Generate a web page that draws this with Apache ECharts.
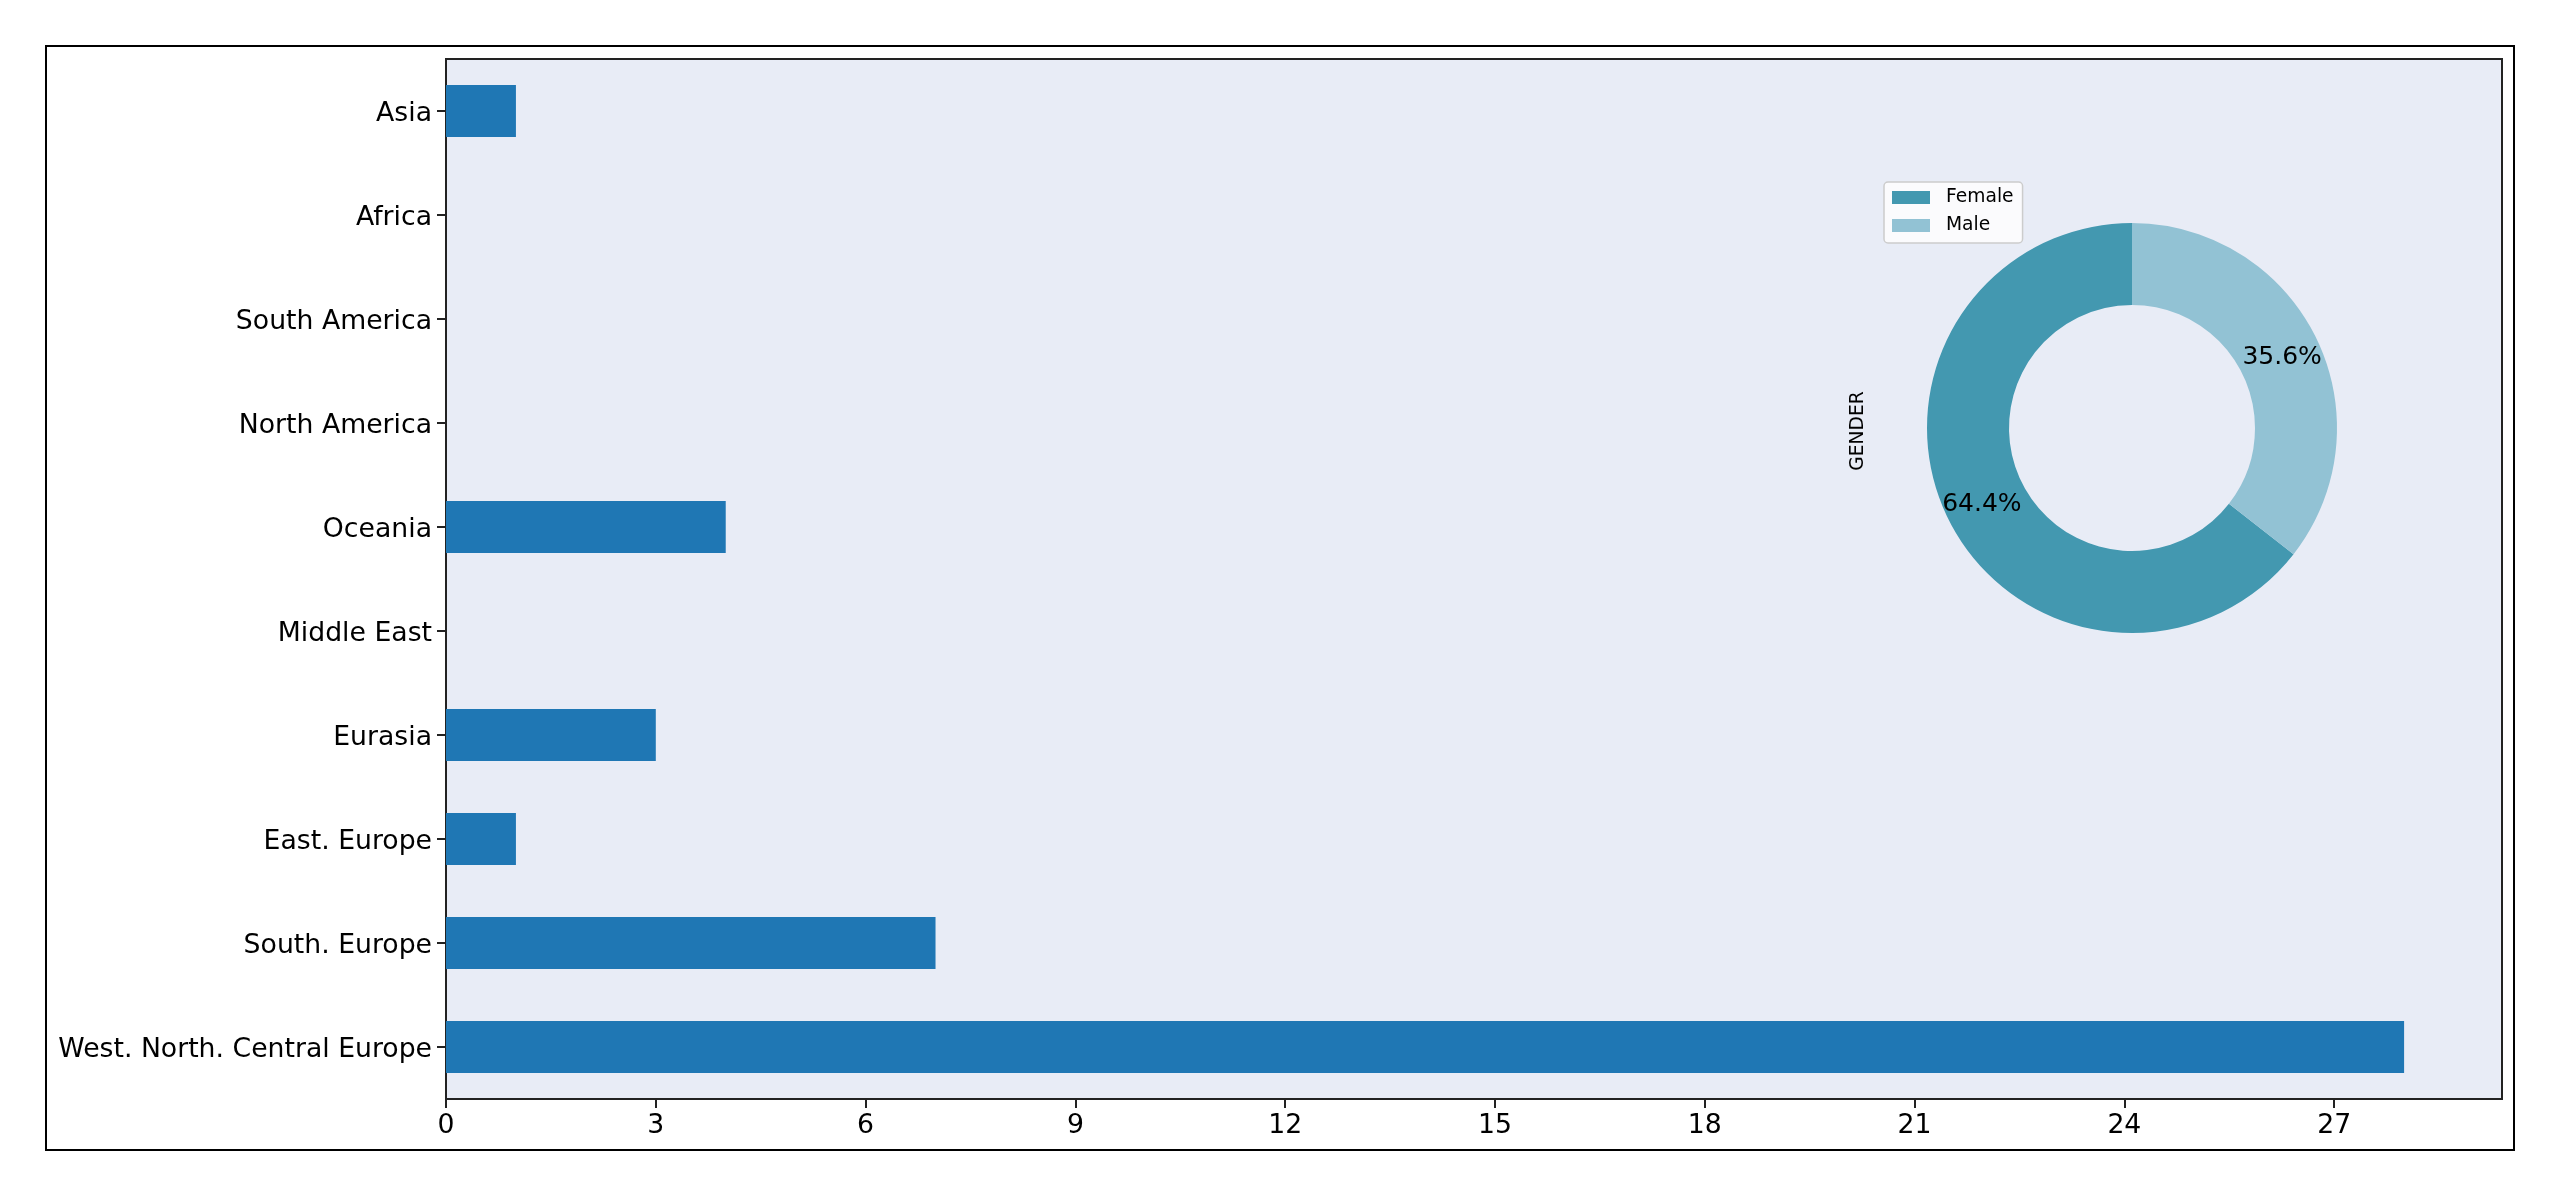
<!DOCTYPE html>
<html>
<head>
<meta charset="utf-8">
<script src="https://cdn.jsdelivr.net/npm/echarts@6/dist/echarts.min.js"></script>
<style>
html,body{margin:0;padding:0;background:#fff;}
#chart{width:2560px;height:1197px;}
</style>
</head>
<body>
<div id="chart"></div>
<script>
const regions = ['Asia','Africa','South America','North America','Oceania','Middle East','Eurasia','East. Europe','South. Europe','West. North. Central Europe'];
const regionCounts = [1,0,0,0,4,0,3,1,7,28];
const xTicks = [0,3,6,9,12,15,18,21,24,27];
const genderNames = ['Female','Male'];
const genderCounts = [29,16];
const genderColors = ['#4398b0','#92c2d4'];

const FONT = 'DejaVu Sans';
const chart = echarts.init(document.getElementById('chart'));
chart.setOption({
  backgroundColor:'#ffffff',
  animation:false,
  textStyle:{fontFamily:FONT},
  graphic:[
    {type:'rect', shape:{x:46,y:46,width:2468,height:1104}, style:{fill:null, stroke:'#000', lineWidth:2}, z:-1},
    {type:'text', x:1858, y:431, rotation:Math.PI/2, z:10,
      style:{text:'GENDER', fontFamily:FONT, fontSize:18.7, fill:'#000', textAlign:'center', textVerticalAlign:'middle'}}
  ],
  grid:{left:446, top:59, width:2056, height:1040, show:true, backgroundColor:'#e8ecf6', borderColor:'#222', borderWidth:2, containLabel:false},
  xAxis:{type:'value', min:0, max:29.4,
    axisLine:{show:true, lineStyle:{color:'#222', width:2}},
    axisTick:{show:true, length:9, lineStyle:{color:'#222', width:2}, customValues:xTicks},
    axisLabel:{color:'#000', fontSize:26.7, fontFamily:FONT, margin:14, customValues:xTicks},
    splitLine:{show:false}},
  yAxis:{type:'category', data:regions, inverse:true,
    axisLine:{show:true, lineStyle:{color:'#222', width:2}},
    axisTick:{show:true, alignWithLabel:true, length:9, lineStyle:{color:'#222', width:2}},
    axisLabel:{color:'#000', fontSize:26.7, fontFamily:FONT, margin:14, verticalAlign:'top', lineHeight:6},
    splitLine:{show:false}},
  legend:{show:true, orient:'vertical', left:1884, top:182, data:genderNames,
    icon:'rect', itemWidth:38, itemHeight:13, itemGap:9,
    padding:[6,9,8,8], backgroundColor:'rgba(255,255,255,0.8)', borderColor:'#cccccc', borderWidth:1.5, borderRadius:4,
    textStyle:{color:'#000', fontSize:18.7, fontFamily:FONT, lineHeight:19, padding:[0,0,0,11]}},
  series:[
    {type:'bar', data:regionCounts, barWidth:'50%', itemStyle:{color:'#1f77b4'}, z:2},
    {type:'pie', center:[2132,428], radius:[123,205], startAngle:90, clockwise:false, percentPrecision:1,
      data:genderNames.map((n,i)=>({name:n, value:genderCounts[i], itemStyle:{color:genderColors[i]}})),
      label:{show:true, position:'inside', formatter:'{p|{d}%}', color:'#000', fontSize:25, fontFamily:FONT,
        rich:{p:{color:'#000', fontSize:25, fontFamily:FONT, padding:[6,0,0,0]}}},
      labelLine:{show:false}, emphasis:{disabled:true}, z:5}
  ]
});
</script>
</body>
</html>
